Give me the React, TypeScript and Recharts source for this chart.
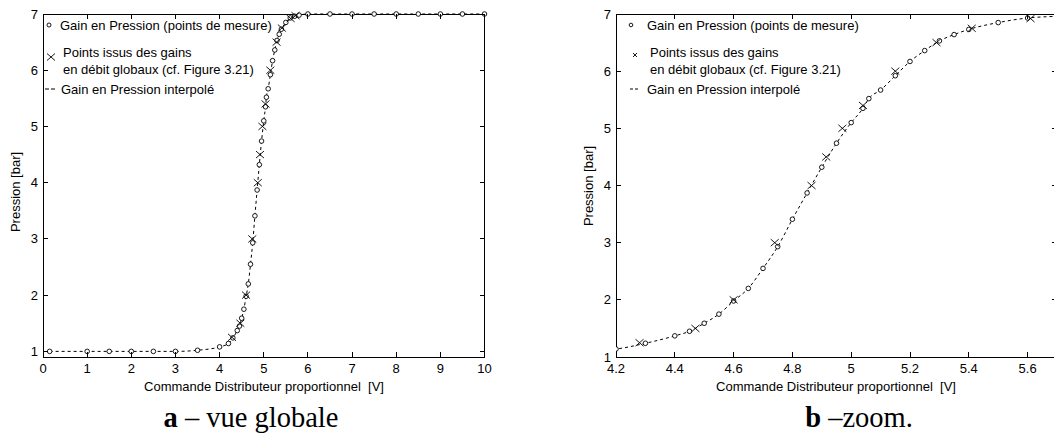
import React from 'react';
import { ComposedChart, Line, Scatter, XAxis, YAxis, ReferenceArea } from 'recharts';

// Gain en pression, points de mesure (o)
const measuredV = [
  0.15, 1, 1.5, 2, 2.5, 3, 3.5, 4, 4.2, 4.3, 4.4, 4.45, 4.5, 4.55, 4.6, 4.65, 4.7, 4.75,
  4.8, 4.85, 4.9, 4.95, 5.0, 5.04, 5.06, 5.1, 5.15, 5.2, 5.25, 5.3, 5.35, 5.4, 5.5, 5.6,
  5.7, 5.8, 6, 6.5, 7, 7.5, 8, 8.5, 9, 9.5, 10,
];
const measuredP = [
  1.0, 1.0, 1.0, 1.0, 1.0, 1.0, 1.02, 1.08, 1.14, 1.24, 1.37, 1.45, 1.59, 1.75, 1.98, 2.2, 2.55, 2.93,
  3.41, 3.87, 4.32, 4.74, 5.1, 5.35, 5.52, 5.67, 5.92, 6.17, 6.36, 6.53, 6.64, 6.73, 6.85, 6.93,
  6.96, 6.98, 7.0, 7.0, 7.0, 7.0, 7.0, 7.0, 7.0, 7.0, 7.0,
];

// Points issus des gains en debit globaux (x)
const crossV = [4.28, 4.47, 4.6, 4.74, 4.865, 4.915, 4.97, 5.04, 5.15, 5.29, 5.41, 5.61, 5.72];
const crossP = [1.25, 1.5, 2.0, 3.0, 4.0, 4.5, 5.0, 5.4, 6.0, 6.5, 6.75, 6.92, 6.97];

const leftXTicks = [0, 1, 2, 3, 4, 5, 6, 7, 8, 9, 10];
const rightXTicks = [4.2, 4.4, 4.6, 4.8, 5, 5.2, 5.4, 5.6];
const yTicks = [1, 2, 3, 4, 5, 6, 7];

const measured = measuredV.map((v, i) => ({ v, p: measuredP[i] }));
const crosses = crossV.map((v, i) => ({ v, p: crossP[i] }));

const SANS = '"Liberation Sans", Arial, sans-serif';
const SERIF = '"Liberation Serif", "Times New Roman", serif';
const H = 400;
const TOP = 14;
const BOTTOM = 357;
const XAXIS_H = 30;
const TICK = 5;

const CircleMark = (props: any) => (
  <circle cx={props.cx} cy={props.cy} r={2.3} fill="#fff" stroke="#000" strokeWidth={0.9} />
);

const CrossMark = (props: any) => {
  const { cx, cy } = props;
  return (
    <g stroke="#000" strokeWidth={0.9}>
      <line x1={cx - 4} y1={cy - 3.5} x2={cx + 4} y2={cy + 3.5} />
      <line x1={cx - 4} y1={cy + 3.5} x2={cx + 4} y2={cy - 3.5} />
    </g>
  );
};

type PanelProps = {
  left: number;
  width: number;
  axisW: number;
  rightGap: number;
  xDomain: [number, number];
  xTicks: number[];
  yDomain: [number, number];
  clip: boolean;
};

function Panel({ left, width, axisW, rightGap, xDomain, xTicks, yDomain, clip }: PanelProps) {
  const plotLeft = axisW;
  const plotRight = width - rightGap;

  const XTick = (props: any) => {
    const { x, payload } = props;
    return (
      <g>
        <line x1={x} x2={x} y1={BOTTOM} y2={BOTTOM - TICK} stroke="#000" shapeRendering="crispEdges" />
        <line x1={x} x2={x} y1={TOP} y2={TOP + TICK} stroke="#000" shapeRendering="crispEdges" />
        <text x={x} y={BOTTOM + 16} textAnchor="middle" fontSize={13} fontFamily={SANS} fill="#000">
          {String(payload.value)}
        </text>
      </g>
    );
  };

  const YTick = (props: any) => {
    const { y, payload } = props;
    return (
      <g>
        <line x1={plotLeft} x2={plotLeft + TICK} y1={y} y2={y} stroke="#000" shapeRendering="crispEdges" />
        <line x1={plotRight} x2={plotRight - TICK} y1={y} y2={y} stroke="#000" shapeRendering="crispEdges" />
        <text x={plotLeft - 5} y={y + 4.5} textAnchor="end" fontSize={13} fontFamily={SANS} fill="#000">
          {String(payload.value)}
        </text>
      </g>
    );
  };

  return (
    <div style={{ position: 'absolute', left, top: 0 }}>
      <ComposedChart
        width={width}
        height={H}
        margin={{ top: TOP, right: rightGap, bottom: H - BOTTOM - XAXIS_H, left: 0 }}
      >
        <XAxis
          dataKey="v"
          type="number"
          domain={xDomain}
          ticks={xTicks}
          interval={0}
          allowDataOverflow={clip}
          axisLine={false}
          tickLine={false}
          height={XAXIS_H}
          tick={XTick}
        />
        <YAxis
          dataKey="p"
          type="number"
          domain={yDomain}
          ticks={yTicks}
          interval={0}
          allowDataOverflow={clip}
          axisLine={false}
          tickLine={false}
          width={axisW}
          tick={YTick}
        />
        <ReferenceArea
          x1={xDomain[0]}
          x2={xDomain[1]}
          y1={yDomain[0]}
          y2={yDomain[1]}
          fill="none"
          fillOpacity={0}
          stroke="#000"
          strokeWidth={1}
          shapeRendering="crispEdges"
        />
        <Line
          data={measured}
          dataKey="p"
          type="monotone"
          stroke="#000"
          strokeWidth={1}
          strokeDasharray="3 3"
          dot={false}
          activeDot={false}
          isAnimationActive={false}
        />
        <Scatter data={measured} dataKey="p" shape={CircleMark} isAnimationActive={false} />
        <Scatter data={crosses} dataKey="p" shape={CrossMark} isAnimationActive={false} />
      </ComposedChart>
    </div>
  );
}

const txt = { fontSize: 13, fontFamily: SANS, fill: '#000' };

export default function App() {
  return (
    <div
      style={{
        position: 'absolute',
        left: 0,
        top: 0,
        width: 1054,
        height: 436,
        overflow: 'hidden',
        background: '#fff',
      }}
    >
      <Panel left={0} width={500} axisW={43} rightGap={15.5} xDomain={[0, 10]} xTicks={leftXTicks} yDomain={[0.9, 7]} clip={false} />
      <Panel left={560} width={520} axisW={56} rightGap={23} xDomain={[4.2, 5.7]} xTicks={rightXTicks} yDomain={[1, 7]} clip={true} />
      <svg width={1054} height={436} style={{ position: 'absolute', left: 0, top: 0, pointerEvents: 'none' }}>
        {/* legende a */}
        <circle cx={49} cy={25} r={2} fill="#fff" stroke="#000" strokeWidth={0.9} />
        <text x={60} y={29.5} {...txt}>Gain en Pression (points de mesure)</text>
        <g stroke="#000" strokeWidth={0.9}>
          <line x1={47} y1={53.5} x2={55} y2={60.5} />
          <line x1={47} y1={60.5} x2={55} y2={53.5} />
        </g>
        <text x={63} y={56.5} {...txt}>Points issus des gains</text>
        <text x={63} y={73.5} {...txt}>en débit globaux (cf. Figure 3.21)</text>
        <line x1={45} y1={89} x2={57} y2={89} stroke="#000" strokeDasharray="4 2" />
        <text x={61} y={93.5} {...txt}>Gain en Pression interpolé</text>

        {/* legende b */}
        <circle cx={631} cy={25} r={1.8} fill="#fff" stroke="#000" strokeWidth={0.9} />
        <text x={647} y={29.5} {...txt}>Gain en Pression (points de mesure)</text>
        <g stroke="#000" strokeWidth={0.9}>
          <line x1={633} y1={53} x2={637} y2={57} />
          <line x1={633} y1={57} x2={637} y2={53} />
        </g>
        <text x={650} y={56.5} {...txt}>Points issus des gains</text>
        <text x={650} y={73.5} {...txt}>en débit globaux (cf. Figure 3.21)</text>
        <line x1={630} y1={89} x2={638} y2={89} stroke="#000" strokeDasharray="3 2" />
        <text x={647} y={93.5} {...txt}>Gain en Pression interpolé</text>

        {/* titres des axes */}
        <text x={264} y={391} textAnchor="middle" {...txt} style={{ whiteSpace: 'pre' }}>
          {'Commande Distributeur proportionnel  [V]'}
        </text>
        <text x={836} y={391} textAnchor="middle" {...txt} style={{ whiteSpace: 'pre' }}>
          {'Commande Distributeur proportionnel  [V]'}
        </text>
        <text x={19.5} y={192} textAnchor="middle" transform="rotate(-90 19.5 192)" {...txt}>
          Pression [bar]
        </text>
        <text x={592.5} y={186} textAnchor="middle" transform="rotate(-90 592.5 186)" {...txt}>
          Pression [bar]
        </text>

        {/* legendes des figures */}
        <text x={251} y={427} textAnchor="middle" fontSize={28.5} fontFamily={SERIF} fill="#000">
          <tspan fontWeight="bold">a</tspan> – vue globale
        </text>
        <text x={859} y={427} textAnchor="middle" fontSize={28.5} fontFamily={SERIF} fill="#000">
          <tspan fontWeight="bold">b</tspan> –zoom.
        </text>
      </svg>
    </div>
  );
}
